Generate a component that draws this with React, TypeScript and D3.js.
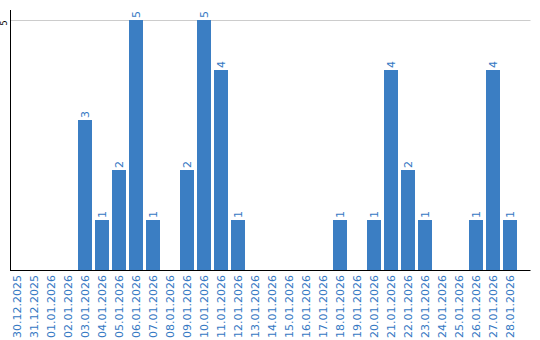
import React from "react";
import * as d3 from "d3";

const dates = [
  "30.12.2025", "31.12.2025", "01.01.2026", "02.01.2026", "03.01.2026", "04.01.2026",
  "05.01.2026", "06.01.2026", "07.01.2026", "08.01.2026", "09.01.2026", "10.01.2026",
  "11.01.2026", "12.01.2026", "13.01.2026", "14.01.2026", "15.01.2026", "16.01.2026",
  "17.01.2026", "18.01.2026", "19.01.2026", "20.01.2026", "21.01.2026", "22.01.2026",
  "23.01.2026", "24.01.2026", "25.01.2026", "26.01.2026", "27.01.2026", "28.01.2026",
];
const counts = [0, 0, 0, 0, 3, 1, 2, 5, 1, 0, 2, 5, 4, 1, 0, 0, 0, 0, 0, 1, 0, 1, 4, 2, 1, 0, 0, 1, 4, 1];
const yTicks = [5];

const W = 540;
const H = 340;
const left = 10.5;
const right = 530.5;
const top = 20;
const bottom = 270;
const barColor = "#3b7ec3";
const textColor = "#3478c3";
const font = "'DejaVu Sans', sans-serif";

export default function App() {
  const x = d3
    .scaleBand<string>()
    .domain(dates)
    .range([8.5, 518.5])
    .paddingInner(3 / 17)
    .paddingOuter(3 / 34);
  const y = d3.scaleLinear().domain([0, 5]).range([bottom, top]);
  const bw = x.bandwidth();

  return (
    <svg
      width={W}
      height={H}
      style={{ position: "absolute", left: 0, top: 0, background: "#fff" }}
    >
      {yTicks.map((t) => (
        <g key={t}>
          <line x1={left} x2={right} y1={y(t) + 0.5} y2={y(t) + 0.5} stroke="#cccccc" strokeWidth={1} />
          <text
            transform={`translate(6.5,${y(t) + 0.5}) rotate(-90)`}
            textAnchor="end"
            fontSize={8}
            fontFamily={font}
            fill="#000"
          >
            {t}
          </text>
        </g>
      ))}
      {dates.map((d, i) =>
        counts[i] > 0 ? (
          <rect
            key={d}
            x={x(d)}
            y={y(counts[i])}
            width={bw}
            height={y(0) - y(counts[i])}
            fill={barColor}
          />
        ) : null
      )}
      {dates.map((d, i) =>
        counts[i] > 0 ? (
          <text
            key={"v" + d}
            transform={`translate(${(x(d) as number) + bw / 2 + 4},${y(counts[i]) - 2}) rotate(-90)`}
            textAnchor="start"
            fontSize={11}
            fontFamily={font}
            fill={textColor}
          >
            {counts[i]}
          </text>
        ) : null
      )}
      <line x1={left} x2={left} y1={10} y2={bottom} stroke="#000" strokeWidth={1} />
      <line x1={left - 0.5} x2={right} y1={bottom + 0.5} y2={bottom + 0.5} stroke="#000" strokeWidth={1} />
      {dates.map((d) => (
        <text
          key={"l" + d}
          transform={`translate(${(x(d) as number) + bw / 2 + 4},275) rotate(-90)`}
          textAnchor="end"
          fontSize={11}
          fontFamily={font}
          fill={textColor}
        >
          {d}
        </text>
      ))}
    </svg>
  );
}
